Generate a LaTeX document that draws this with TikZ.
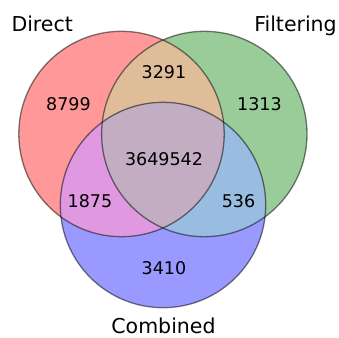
\documentclass[tikz,border=0pt]{standalone}
\usepackage{fontspec}
\setmainfont{DejaVu Sans}

\definecolor{donly}{RGB}{255,153,153}
\definecolor{fonly}{RGB}{153,204,153}
\definecolor{conly}{RGB}{153,153,255}
\definecolor{dfcol}{RGB}{224,189,153}
\definecolor{dccol}{RGB}{224,153,224}
\definecolor{fccol}{RGB}{153,189,224}
\definecolor{allcol}{RGB}{194,173,194}

\tikzset{
  num/.style={anchor=base, font=\fontsize{17.5}{20}\selectfont},
  setname/.style={anchor=base, inner sep=0pt, font=\fontsize{20.5}{24}\selectfont},
  rim/.style={draw=black, draw opacity=0.5, line width=1.3pt}
}

\begin{document}
\begin{tikzpicture}[x=1pt,y=-1pt]
%\draw [help lines, step=10] (0,0) grid (339,337);
\useasboundingbox (0,0) rectangle (339,337);

\coordinate (direct) at (121.5,134);
\coordinate (filter) at (204.3,134);
\coordinate (comb) at (163,205);

% single sets
\fill [donly] (direct) circle [radius=102.7pt];
\fill [fonly] (filter) circle [radius=102.7pt];
\fill [conly] (comb) circle [radius=102.7pt];

% pairs
\begin{scope}
\clip (direct) circle [radius=102.7pt];
\fill [dfcol] (filter) circle [radius=102.7pt];
\fill [dccol] (comb) circle [radius=102.7pt];
\end{scope}
\begin{scope}
\clip (filter) circle [radius=102.7pt];
\fill [fccol] (comb) circle [radius=102.7pt];
\end{scope}

% all three
\begin{scope}
\clip (direct) circle [radius=102.7pt];
\clip (filter) circle [radius=102.7pt];
\fill [allcol] (comb) circle [radius=102.7pt];
\end{scope}

\draw [rim] (direct) circle [radius=102.7pt];
\draw [rim] (filter) circle [radius=102.7pt];
\draw [rim] (comb) circle [radius=102.7pt];

\node [num] (n100) at (68.5,110) {8799};
\node [num] (n110) at (164,78) {3291};
\node [num] (n010) at (259.5,110) {1313};
\node [num] (n111) at (164,165.7) {3649542};
\node [num] (n101) at (90,207.5) {1875};
\node [num] (n011) at (238.5,207.5) {536};
\node [num] (n001) at (164,274) {3410};

\node [setname] (ldirect) at (42.2,31.7) {Direct};
\node [setname] (lfilter) at (295.5,31.7) {Filtering};
\node [setname] (lcomb) at (163.5,333.5) {Combined};

\end{tikzpicture}
\end{document}
